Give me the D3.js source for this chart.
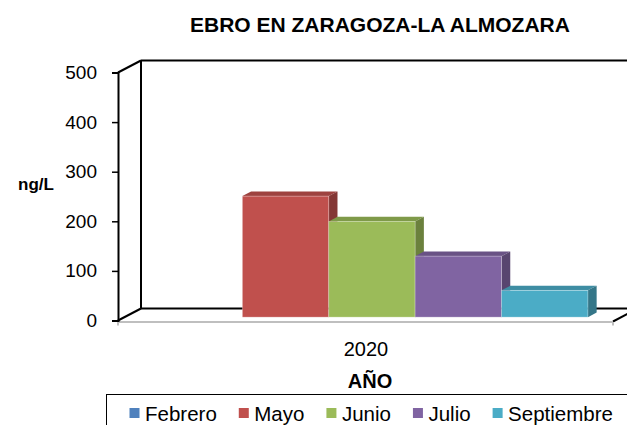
<!DOCTYPE html>
<html>
<head>
<meta charset="utf-8">
<script src="https://cdn.jsdelivr.net/npm/d3@7"></script>
<style>
  body { margin: 0; background: #fff; }
  svg text { font-family: "Liberation Sans", Arial, sans-serif; fill: #000; }
</style>
</head>
<body>
<div id="chart"></div>
<script>
// data
const years = ["2020"];
const months = ["Febrero", "Mayo", "Junio", "Julio", "Septiembre"];
const values = [0, 244, 193, 123, 54];   // ng/L, Febrero has no bar
const colors = ["#4F81BD", "#C0504D", "#9BBB59", "#8064A2", "#4BACC6"];
const yTicks = [0, 100, 200, 300, 400, 500];

const W = 627, H = 425;
const svg = d3.select("#chart").append("svg")
    .attr("width", W).attr("height", H);

// depth of the 3d box (oblique offset)
const DX = 23, DY = -12;
const left = 118, right = 613;

const y = d3.scaleLinear().domain([0, 500]).range([320.5, 72.5]);
const x0 = d3.scaleBand().domain(years).range([left, right]);
const x1 = d3.scaleBand().domain(months)
    .range([0, x0.bandwidth()]).paddingOuter(0.365).paddingInner(0);

// title
svg.append("text")
    .attr("x", 380).attr("y", 32)
    .attr("text-anchor", "middle")
    .style("font-weight", "bold").style("font-size", "21px")
    .text("EBRO EN ZARAGOZA-LA ALMOZARA");

// back wall + floor outline
const walls = svg.append("g").attr("stroke", "#000").attr("stroke-width", 2).attr("fill", "none");
walls.append("line").attr("x1", left).attr("y1", y(500)).attr("x2", left + DX).attr("y2", y(500) + DY);
walls.append("line").attr("x1", left + DX).attr("y1", y(500) + DY).attr("x2", W + 20).attr("y2", y(500) + DY);
walls.append("line").attr("x1", left + DX).attr("y1", y(500) + DY).attr("x2", left + DX).attr("y2", y(0) + DY);
walls.append("line").attr("x1", left).attr("y1", y(0)).attr("x2", left + DX).attr("y2", y(0) + DY);
walls.append("line").attr("x1", left + DX).attr("y1", y(0) + DY).attr("x2", W + 20).attr("y2", y(0) + DY);
walls.append("line").attr("x1", right).attr("y1", y(0) + 1).attr("x2", right + DX).attr("y2", y(0) + 1 + DY);

// floor front edge (grey)
const floor = svg.append("g").attr("stroke", "#bfbfbf").attr("stroke-width", 2);
floor.append("line").attr("x1", left).attr("y1", y(0) + 1.5).attr("x2", right).attr("y2", y(0) + 1.5);
floor.append("line").attr("x1", left).attr("y1", y(0) + 1.5).attr("x2", left).attr("y2", y(0) + 5);
floor.append("line").attr("x1", right).attr("y1", y(0) + 1.5).attr("x2", right).attr("y2", y(0) + 5);

// y axis
const yAxis = svg.append("g")
    .attr("transform", `translate(${left},0)`)
    .call(d3.axisLeft(y).tickValues(yTicks).tickSize(6).tickPadding(15));
yAxis.select(".domain").attr("stroke", "#000").attr("stroke-width", 2);
yAxis.selectAll(".tick line").attr("stroke", "#000").attr("stroke-width", 1.5);
yAxis.selectAll(".tick text")
    .style("font-size", "19px")
    .attr("font-family", null);

svg.append("text")
    .attr("x", 36).attr("y", 190)
    .attr("text-anchor", "middle")
    .style("font-weight", "bold").style("font-size", "17px")
    .text("ng/L");

// bars
const f0 = 0.28, f1 = 0.66;   // front and back position of the bars inside the depth
const bars = svg.append("g");
years.forEach(yr => {
  months.forEach((m, i) => {
    const v = values[i];
    if (!v) return;
    const c = d3.color(colors[i]);
    const xa = x0(yr) + x1(m) + DX * f0;
    const xb = xa + x1.bandwidth();
    const yt = y(v) + DY * f0;
    const yb = y(0) + DY * f0;
    const ddx = DX * (f1 - f0), ddy = DY * (f1 - f0);
    const g = bars.append("g");
    // top
    g.append("path")
        .attr("d", `M${xa},${yt}L${xa + ddx},${yt + ddy}L${xb + ddx},${yt + ddy}L${xb},${yt}Z`)
        .attr("fill", c.darker(0.55));
    // side
    g.append("path")
        .attr("d", `M${xb},${yt}L${xb + ddx},${yt + ddy}L${xb + ddx},${yb + ddy}L${xb},${yb}Z`)
        .attr("fill", c.darker(1.05));
    // front
    g.append("rect")
        .attr("x", xa).attr("y", yt)
        .attr("width", x1.bandwidth()).attr("height", yb - yt)
        .attr("fill", c)
        .attr("stroke", "rgba(255,255,255,0.35)").attr("stroke-width", 0.8);
  });
});

// category label and axis title
svg.append("text")
    .attr("x", x0("2020") + x0.bandwidth() / 2 + 0.5).attr("y", 356)
    .attr("text-anchor", "middle")
    .style("font-size", "20px")
    .text("2020");
svg.append("text")
    .attr("x", 370).attr("y", 388)
    .attr("text-anchor", "middle")
    .style("font-weight", "bold").style("font-size", "20px")
    .text("AÑO");

// legend
svg.append("rect")
    .attr("x", 106.5).attr("y", 394.5)
    .attr("width", 600).attr("height", 60)
    .attr("fill", "none").attr("stroke", "#000").attr("stroke-width", 1);

let lx = 129.5;
months.forEach((m, i) => {
  svg.append("rect")
      .attr("x", lx).attr("y", 408).attr("width", 10).attr("height", 10)
      .attr("fill", colors[i]);
  const t = svg.append("text")
      .attr("x", lx + 15.5).attr("y", 421)
      .style("font-size", "20.5px")
      .text(m);
  lx += 15.5 + t.node().getComputedTextLength() + 22;
});
</script>
</body>
</html>
